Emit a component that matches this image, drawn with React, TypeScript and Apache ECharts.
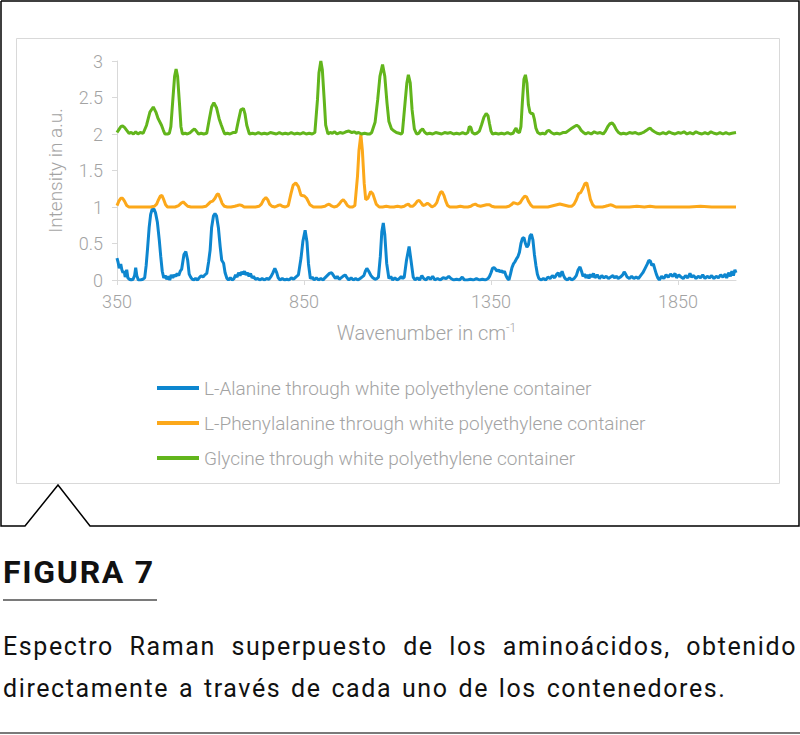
import React, { useEffect, useRef } from "react";
import * as echarts from "echarts";

// ---- tick labels / names ----
const X_TICKS = [350, 850, 1350, 1850];
const X_MIN = 350;
const X_MAX = 2005;
const Y_MIN = 0;
const Y_MAX = 3;
const Y_STEP = 0.5;

const SERIES_NAMES = [
  "L-Alanine through white polyethylene container",
  "L-Phenylalanine through white polyethylene container",
  "Glycine through white polyethylene container",
];
const SERIES_COLORS = ["#0d86cf", "#fca81a", "#62b51c"];

// ---- spectra: [wavenumber cm-1, intensity a.u.] ----
const alanine: [number, number][] = [
  [350,0.3],[353,0.24],[356,0.16],[360,0.22],[363,0.14],[366,0.1],[369,0.12],[372,0.04],[376,0.14],[379,0.03],
  [383,0.01],[388,0.0],[393,0.01],[397,0.06],[400,0.17],[403,0.06],[407,0.0],[413,0.0],[419,0.01],[424,0.03],
  [428,0.2],[432,0.45],[436,0.72],[440,0.9],[444,0.97],[449,0.97],[453,0.92],[458,0.79],[463,0.55],[467,0.32],
  [471,0.12],[475,0.03],[479,0.06],[483,0.01],[487,0.05],[491,0.0],[495,0.07],[499,0.03],[503,0.07],[507,0.05],
  [511,0.09],[515,0.06],[519,0.12],[523,0.15],[529,0.35],[534,0.39],[539,0.27],[543,0.08],[547,0.04],[551,0.01],
  [555,0.0],[560,0.02],[565,0.0],[570,0.03],[575,0.06],[580,0.04],[585,0.07],[590,0.09],[595,0.25],[599,0.41],
  [603,0.72],[608,0.88],[612,0.91],[616,0.88],[621,0.72],[626,0.45],[630,0.27],[635,0.23],[639,0.1],[644,0.02],
  [648,0.0],[653,0.03],[658,0.0],[663,0.02],[667,0.07],[671,0.04],[675,0.1],[679,0.06],[683,0.11],[687,0.08],
  [691,0.12],[695,0.07],[699,0.1],[703,0.05],[707,0.09],[711,0.03],[715,0.05],[720,0.01],[726,0.02],[732,0.0],
  [738,0.02],[744,0.0],[750,0.02],[756,0.01],[762,0.05],[767,0.1],[772,0.16],[777,0.1],[781,0.03],[786,0.0],
  [792,0.02],[798,0.0],[804,0.01],[810,0.0],[816,0.03],[822,0.01],[828,0.04],[835,0.07],[842,0.3],[847,0.53],
  [853,0.68],[858,0.52],[862,0.22],[867,0.02],[872,0.04],[877,0.0],[883,0.03],[889,0.0],[895,0.02],[901,0.0],
  [906,0.03],[912,0.06],[918,0.09],[924,0.1],[929,0.06],[934,0.02],[939,0.05],[944,0.01],[949,0.03],[954,0.05],
  [960,0.07],[965,0.03],[970,0.0],[976,0.03],[982,0.0],[988,0.02],[994,0.0],[1000,0.02],[1005,0.04],[1010,0.06],
  [1014,0.12],[1018,0.16],[1023,0.12],[1029,0.06],[1034,0.03],[1040,0.01],[1045,0.02],[1049,0.04],[1054,0.32],[1058,0.66],
  [1062,0.78],[1066,0.62],[1071,0.23],[1077,0.02],[1082,0.05],[1087,0.0],[1093,0.03],[1099,0.0],[1105,0.02],[1110,0.05],
  [1114,0.02],[1118,0.04],[1124,0.27],[1131,0.46],[1136,0.27],[1142,0.04],[1147,0.0],[1153,0.03],[1159,0.0],[1165,0.06],
  [1170,0.02],[1176,0.0],[1182,0.04],[1188,0.01],[1194,0.05],[1200,0.0],[1207,0.02],[1214,0.0],[1222,0.03],[1230,0.02],
  [1237,0.05],[1243,0.02],[1250,0.0],[1258,0.01],[1266,0.0],[1273,0.04],[1279,0.0],[1287,0.0],[1295,0.01],[1303,0.0],
  [1311,0.02],[1319,0.0],[1327,0.01],[1335,0.0],[1342,0.02],[1346,0.05],[1350,0.1],[1354,0.16],[1358,0.17],[1362,0.15],
  [1366,0.12],[1370,0.14],[1374,0.11],[1378,0.13],[1382,0.1],[1386,0.12],[1390,0.06],[1394,0.02],[1398,0.0],[1402,0.08],
  [1406,0.17],[1410,0.22],[1414,0.25],[1418,0.29],[1422,0.32],[1426,0.38],[1430,0.5],[1434,0.57],[1438,0.58],[1442,0.5],
  [1446,0.45],[1450,0.48],[1454,0.6],[1458,0.63],[1462,0.55],[1466,0.35],[1470,0.2],[1474,0.08],[1478,0.02],[1484,0.0],
  [1490,0.02],[1496,0.0],[1502,0.04],[1508,0.02],[1514,0.06],[1520,0.03],[1526,0.08],[1530,0.1],[1534,0.04],[1540,0.12],
  [1544,0.06],[1548,0.02],[1554,0.0],[1560,0.03],[1566,0.0],[1572,0.02],[1578,0.06],[1583,0.14],[1588,0.18],[1592,0.12],
  [1596,0.05],[1600,0.08],[1604,0.03],[1608,0.07],[1612,0.02],[1616,0.08],[1620,0.04],[1624,0.09],[1628,0.03],[1634,0.07],
  [1640,0.02],[1646,0.06],[1652,0.03],[1658,0.05],[1664,0.02],[1670,0.04],[1676,0.06],[1680,0.03],[1686,0.05],[1690,0.02],
  [1696,0.04],[1702,0.07],[1706,0.11],[1710,0.08],[1714,0.04],[1720,0.02],[1726,0.05],[1732,0.02],[1738,0.04],[1744,0.02],
  [1750,0.06],[1756,0.1],[1762,0.16],[1768,0.22],[1772,0.27],[1776,0.26],[1780,0.2],[1784,0.22],[1788,0.15],[1792,0.08],
  [1796,0.03],[1800,0.0],[1806,0.05],[1812,0.02],[1818,0.07],[1824,0.04],[1830,0.08],[1836,0.05],[1842,0.09],[1846,0.03],
  [1852,0.07],[1858,0.04],[1864,0.02],[1870,0.06],[1876,0.03],[1882,0.09],[1886,0.04],[1892,0.06],[1898,0.02],[1904,0.05],
  [1910,0.03],[1916,0.07],[1922,0.02],[1928,0.05],[1934,0.03],[1940,0.06],[1946,0.02],[1952,0.05],[1958,0.03],[1964,0.07],
  [1970,0.04],[1976,0.08],[1980,0.03],[1986,0.1],[1990,0.05],[1994,0.12],[1998,0.06],[2002,0.14],[2005,0.1],
];

const phenylalanine: [number, number][] = [
  [350,1.02],[355,1.08],[360,1.12],[365,1.12],[370,1.08],[376,1.02],[382,1.0],[392,1.0],[404,1.0],[416,1.0],
  [428,1.0],[440,1.0],[450,1.01],[456,1.04],[461,1.1],[466,1.15],[470,1.16],[475,1.1],[480,1.03],[485,1.0],
  [495,1.0],[505,1.0],[515,1.02],[521,1.05],[527,1.07],[533,1.04],[539,1.01],[548,1.0],[558,1.0],[568,1.0],
  [578,1.0],[588,1.01],[594,1.04],[600,1.07],[606,1.08],[612,1.12],[617,1.17],[621,1.18],[626,1.12],[631,1.05],
  [637,1.01],[645,1.0],[655,1.0],[665,1.01],[672,1.02],[678,1.03],[684,1.02],[690,1.0],[700,1.0],[710,1.0],
  [720,1.0],[730,1.01],[736,1.04],[742,1.1],[748,1.13],[753,1.1],[758,1.04],[764,1.01],[772,1.0],[780,1.02],
  [786,1.03],[792,1.01],[800,1.0],[808,1.02],[815,1.18],[821,1.3],[828,1.33],[835,1.28],[842,1.16],[851,1.15],
  [857,1.12],[866,1.03],[875,1.0],[886,1.0],[896,1.0],[906,1.01],[912,1.03],[917,1.04],[922,1.02],[930,1.0],
  [938,1.01],[944,1.04],[950,1.08],[955,1.1],[960,1.07],[966,1.02],[972,1.0],[980,1.0],[986,1.02],[993,1.42],
  [997,1.78],[1002,1.99],[1006,1.78],[1011,1.32],[1015,1.1],[1021,1.12],[1028,1.21],[1034,1.18],[1043,1.04],[1051,1.0],
  [1060,1.0],[1070,1.01],[1080,1.0],[1090,1.0],[1100,1.01],[1110,1.0],[1118,1.01],[1124,1.03],[1129,1.04],[1134,1.01],
  [1141,1.01],[1147,1.04],[1153,1.08],[1158,1.09],[1163,1.06],[1168,1.02],[1174,1.03],[1180,1.05],[1186,1.03],[1192,1.0],
  [1199,1.02],[1205,1.06],[1210,1.14],[1215,1.2],[1219,1.21],[1224,1.16],[1229,1.08],[1234,1.02],[1240,1.0],[1248,1.0],
  [1258,1.0],[1268,1.01],[1278,1.0],[1288,1.0],[1296,1.01],[1302,1.03],[1308,1.04],[1314,1.02],[1322,1.01],[1330,1.02],
  [1338,1.03],[1346,1.03],[1352,1.01],[1360,1.0],[1370,1.0],[1380,1.0],[1390,1.0],[1398,1.01],[1404,1.03],[1410,1.06],
  [1416,1.05],[1422,1.04],[1428,1.06],[1434,1.11],[1440,1.15],[1445,1.14],[1450,1.08],[1456,1.03],[1462,1.0],[1472,1.0],
  [1482,1.0],[1492,1.0],[1502,1.0],[1510,1.01],[1518,1.02],[1526,1.03],[1534,1.04],[1542,1.03],[1550,1.02],[1558,1.01],
  [1566,1.01],[1572,1.04],[1578,1.1],[1584,1.18],[1590,1.2],[1596,1.26],[1601,1.32],[1606,1.33],[1611,1.22],[1616,1.1],
  [1622,1.03],[1628,1.0],[1638,1.0],[1648,1.0],[1656,1.01],[1663,1.02],[1669,1.03],[1676,1.02],[1684,1.0],[1700,1.0],
  [1720,1.0],[1740,1.01],[1760,1.0],[1775,1.01],[1790,1.0],[1820,1.0],[1850,1.0],[1880,1.0],[1910,1.01],[1940,1.0],
  [1970,1.0],[2005,1.0],
];

const glycine: [number, number][] = [
  [350,2.02],[355,2.06],[360,2.1],[365,2.11],[370,2.09],[376,2.05],[382,2.01],[388,2.02],[394,2.0],[400,2.03],
  [406,2.0],[412,2.02],[420,2.01],[429,2.12],[438,2.3],[447,2.37],[454,2.3],[460,2.21],[469,2.12],[474,2.05],
  [478,2.0],[485,2.0],[490,2.01],[494,2.1],[499,2.45],[504,2.79],[508,2.89],[512,2.79],[517,2.42],[521,2.1],
  [525,2.0],[532,2.01],[538,2.0],[546,2.02],[552,2.05],[557,2.07],[562,2.04],[568,2.0],[575,2.01],[582,2.0],
  [590,2.01],[597,2.21],[603,2.37],[609,2.43],[616,2.36],[623,2.21],[629,2.12],[634,2.05],[638,2.0],[645,2.01],
  [652,2.0],[660,2.02],[668,2.02],[674,2.17],[681,2.33],[688,2.35],[692,2.28],[697,2.12],[704,2.0],[712,2.01],
  [720,2.0],[728,2.02],[736,2.0],[744,2.01],[752,2.0],[760,2.02],[768,2.01],[776,2.0],[784,2.02],[792,2.0],
  [800,2.01],[808,2.0],[816,2.02],[824,2.0],[832,2.01],[840,2.0],[848,2.02],[856,2.0],[864,2.01],[872,2.0],
  [879,2.02],[886,2.47],[890,2.84],[895,3.0],[899,2.88],[904,2.47],[908,2.12],[914,2.0],[920,2.02],[926,2.01],
  [932,2.03],[938,2.0],[946,2.02],[954,2.01],[962,2.03],[970,2.04],[978,2.02],[984,2.03],[990,2.01],[996,2.02],
  [1004,2.0],[1012,2.01],[1020,2.0],[1026,2.0],[1031,2.02],[1040,2.16],[1047,2.47],[1053,2.79],[1060,2.95],[1066,2.79],
  [1072,2.42],[1077,2.17],[1084,2.07],[1091,2.04],[1097,2.02],[1104,2.01],[1110,2.0],[1113,2.02],[1120,2.42],[1125,2.7],
  [1129,2.81],[1134,2.7],[1139,2.33],[1145,2.07],[1151,2.0],[1157,2.01],[1162,2.05],[1167,2.07],[1172,2.03],[1178,2.0],
  [1186,2.01],[1194,2.0],[1202,2.02],[1210,2.01],[1218,2.0],[1226,2.02],[1234,2.01],[1242,2.02],[1250,2.0],[1258,2.01],
  [1266,2.0],[1274,2.02],[1282,2.0],[1288,2.02],[1292,2.1],[1296,2.09],[1300,2.02],[1306,2.0],[1312,2.01],[1319,2.04],
  [1325,2.13],[1331,2.23],[1337,2.28],[1342,2.25],[1346,2.14],[1350,2.04],[1354,2.0],[1362,2.01],[1370,2.0],[1378,2.01],
  [1386,2.0],[1394,2.02],[1402,2.0],[1409,2.01],[1413,2.05],[1417,2.08],[1421,2.03],[1426,2.02],[1430,2.1],[1434,2.45],
  [1438,2.75],[1442,2.81],[1446,2.7],[1450,2.4],[1454,2.3],[1458,2.28],[1462,2.28],[1466,2.2],[1470,2.08],[1475,2.02],
  [1481,2.0],[1488,2.01],[1495,2.0],[1500,2.04],[1505,2.05],[1511,2.02],[1518,2.0],[1526,2.01],[1534,2.0],[1542,2.02],
  [1550,2.02],[1558,2.05],[1566,2.08],[1572,2.1],[1579,2.12],[1585,2.1],[1591,2.05],[1597,2.02],[1603,2.0],[1610,2.02],
  [1618,2.0],[1626,2.03],[1634,2.01],[1642,2.02],[1650,2.0],[1656,2.04],[1662,2.1],[1668,2.14],[1674,2.15],[1679,2.12],
  [1685,2.06],[1691,2.02],[1697,2.0],[1704,2.01],[1712,2.0],[1720,2.02],[1728,2.01],[1736,2.02],[1744,2.0],[1752,2.01],
  [1760,2.03],[1766,2.05],[1771,2.07],[1776,2.08],[1781,2.05],[1787,2.03],[1794,2.01],[1802,2.0],[1810,2.02],[1818,2.0],
  [1826,2.03],[1834,2.01],[1842,2.0],[1850,2.02],[1858,2.01],[1866,2.03],[1874,2.0],[1882,2.02],[1890,2.0],[1898,2.03],
  [1906,2.01],[1914,2.0],[1922,2.02],[1930,2.0],[1938,2.03],[1946,2.01],[1954,2.0],[1962,2.02],[1970,2.0],[1978,2.02],
  [1986,2.0],[1994,2.01],[2005,2.02],
];

const SERIES_DATA = [alanine, phenylalanine, glycine];

const CAPTION_TITLE = "FIGURA 7";
const CAPTION_LINE_1 = "Espectro Raman superpuesto de los aminoácidos, obtenido";
const CAPTION_LINE_2 = "directamente a través de cada uno de los contenedores.";

const LABEL_COLOR = "#a3a3a3";
const AXIS_COLOR = "#d9d9d9";
const FONT = "Roboto, 'Open Sans', sans-serif";

export default function App() {
  const ref = useRef<HTMLDivElement>(null);

  useEffect(() => {
    if (!ref.current) return;
    const chart = echarts.init(ref.current, null, { renderer: "svg" });
    const option: any = {
      animation: false,
      grid: { left: 117, top: 61, width: 619, height: 219, containLabel: false },
      legend: {
        orient: "vertical",
        left: 157,
        top: 378,
        icon: "rect",
        itemWidth: 42,
        itemHeight: 4,
        itemGap: 15,
        padding: 0,
        data: SERIES_NAMES,
        textStyle: { color: LABEL_COLOR, fontSize: 19, fontFamily: FONT, fontWeight: 300, lineHeight: 20 },
      },
      xAxis: {
        type: "value",
        min: X_MIN,
        max: X_MAX,
        axisLine: { show: true, lineStyle: { color: AXIS_COLOR, width: 1 } },
        axisTick: { show: true, customValues: X_TICKS, length: 5, lineStyle: { color: AXIS_COLOR } },
        axisLabel: {
          customValues: X_TICKS,
          formatter: (v: number) => String(v),
          color: LABEL_COLOR, fontSize: 18, fontFamily: FONT, fontWeight: 300, margin: 12,
        },
        splitLine: { show: false },
        name: "Wavenumber in cm{sup|-1}",
        nameLocation: "middle",
        nameGap: 42,
        nameTextStyle: {
          color: LABEL_COLOR,
          fontSize: 20,
          fontFamily: FONT,
          fontWeight: 300,
          lineHeight: 22,
          rich: { sup: { color: LABEL_COLOR, fontSize: 12, fontFamily: FONT, lineHeight: 12, verticalAlign: "top" } },
        },
      },
      yAxis: {
        type: "value",
        min: Y_MIN,
        max: Y_MAX,
        interval: Y_STEP,
        axisLine: { show: true, lineStyle: { color: AXIS_COLOR, width: 1 } },
        axisTick: { show: true, length: 5, lineStyle: { color: AXIS_COLOR } },
        axisLabel: { color: LABEL_COLOR, fontSize: 18, fontFamily: FONT, fontWeight: 300, margin: 14 },
        splitLine: { show: false },
        name: "Intensity in a.u.",
        nameLocation: "middle",
        nameGap: 52,
        nameTextStyle: { color: LABEL_COLOR, fontSize: 19, fontFamily: FONT, fontWeight: 300 },
      },
      series: SERIES_NAMES.map((name, i) => ({
        name,
        type: "line",
        data: SERIES_DATA[i],
        showSymbol: false,
        symbol: "none",
        smooth: false,
        color: SERIES_COLORS[i],
        lineStyle: { width: 3, color: SERIES_COLORS[i] },
        z: 2 + i,
      })),
      graphic: [
        {
          type: "rect",
          silent: true,
          z: -10,
          shape: { x: 16.5, y: 38.5, width: 763, height: 445 },
          style: { fill: "none", stroke: "#d9d9d9", lineWidth: 1 },
        },
        {
          type: "polyline",
          silent: true,
          shape: {
            points: [[1, 1], [799, 1], [799, 526], [90, 526], [58, 485], [25, 526], [1, 526], [1, 1]],
          },
          style: { fill: "none", stroke: "#000000", lineWidth: 1.5 },
        },
      ],
    };
    chart.setOption(option);
    return () => chart.dispose();
  }, []);

  const captionFont = "Roboto, 'Liberation Sans', sans-serif";

  return (
    <div style={{ position: "fixed", left: 0, top: 0, width: 800, height: 735, background: "#ffffff", overflow: "hidden" }}>
      <div ref={ref} style={{ position: "absolute", left: 0, top: 0, width: 800, height: 530 }} />
      <div
        style={{
          position: "absolute", left: 3, top: 556, fontFamily: captionFont, fontWeight: 700,
          fontSize: 32, lineHeight: "32px", color: "#111", letterSpacing: 1.7, whiteSpace: "nowrap",
        }}
      >
        {CAPTION_TITLE}
      </div>
      <div style={{ position: "absolute", left: 3, top: 599, width: 154, height: 2, background: "#7a7a7a" }} />
      <div
        style={{
          position: "absolute", left: 3, top: 634, width: 794, fontFamily: captionFont,
          fontSize: 25, lineHeight: "25px", color: "#111", letterSpacing: 1.6,
          textAlign: "justify", textAlignLast: "justify" as any,
        }}
      >
        {CAPTION_LINE_1}
      </div>
      <div
        style={{
          position: "absolute", left: 3, top: 676, fontFamily: captionFont,
          fontSize: 25, lineHeight: "25px", color: "#111", letterSpacing: 1.6, wordSpacing: 2, whiteSpace: "nowrap",
        }}
      >
        {CAPTION_LINE_2}
      </div>
      <div style={{ position: "absolute", left: 0, top: 732, width: 800, height: 2, background: "#7a7a7a" }} />
    </div>
  );
}
